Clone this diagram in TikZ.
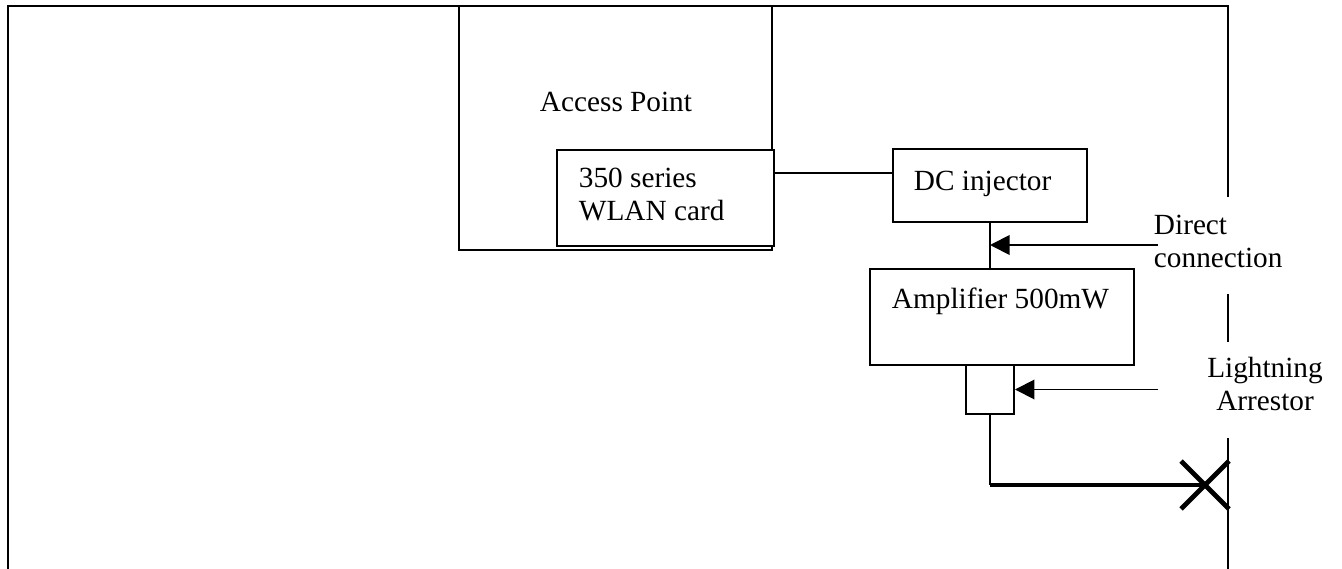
\documentclass[tikz,border=0pt]{standalone}
\usepackage{fontspec}
\setmainfont{Liberation Serif}
\usetikzlibrary{arrows.meta,fit}

\tikzset{
  caixa/.style={draw, fill=white, inner sep=0pt},
  texto/.style={font=\fontsize{12}{13.5}\selectfont, inner sep=0pt},
  seta/.style={-{Triangle[length=8pt,width=8pt]}},
  grossa/.style={line width=2pt},
}

\begin{document}
\begin{tikzpicture}[x=0.41pt, y=-0.41pt, line width=0.8pt] %Desenho em pixels, y para baixo
	\useasboundingbox (0,0) rectangle (1342,569); %Margens
	%Parede
	\draw (1228,197) -- (1228,6) -- (8,6) -- (8,569);
	\draw (1228,294) -- (1228,342);
	\draw (1228,438) -- (1228,569);

	%Caixas
	\node[caixa, fit={(459,6) (772,250)}] (ap) {}; %Access Point
	\node[caixa, fit={(557,150) (774,246)}] (wlan) {}; %Placa
	\node[caixa, fit={(893,149) (1087,222)}] (dc) {}; %Injetor
	\node[caixa, fit={(870,269) (1134,365)}] (amp) {}; %Amplificador
	\node[caixa, fit={(966,365) (1014,414)}] (ar) {}; %Para-raios

	%Textos
	\node[texto, anchor=base] (aptxt) at (616,112) {Access Point};
	\node[texto, anchor=north west, align=left] (wlantxt) at (578,167) {350 series\\WLAN card};
	\node[texto, anchor=base west] (dctxt) at (913,190) {DC injector};
	\node[texto, anchor=base west] (amptxt) at (891,308) {Amplifier 500mW};
	\node[texto, anchor=north west, align=left] (dirtxt) at (1153,214) {Direct\\connection};
	\node[texto, anchor=north, align=center] (artxt) at (1265,356) {Lightning\\Arrestor};

	%Ligacoes
	\coordinate (cabo) at (0,173);
	\coordinate (dirfim) at (1158,245);
	\coordinate (arfim) at (1158,389.5);
	\coordinate (xis) at (1205,485);
	\draw (wlan.east |- cabo) -- (dc.west |- cabo);
	\draw (dc.south) -- (dc.south |- amp.north);
	\draw[seta] (dirfim) -- (dirfim -| dc.south);
	\draw[seta] (arfim) -- (ar.east);
	\draw (ar.south) -- (ar.south |- xis);
	\draw[grossa] (ar.south |- xis) -- (xis); %Cabo da antena
	\draw[grossa] (xis) +(-24,-24) -- +(24,24) (xis) +(-24,24) -- +(24,-24); %Antena
\end{tikzpicture}
\end{document}
